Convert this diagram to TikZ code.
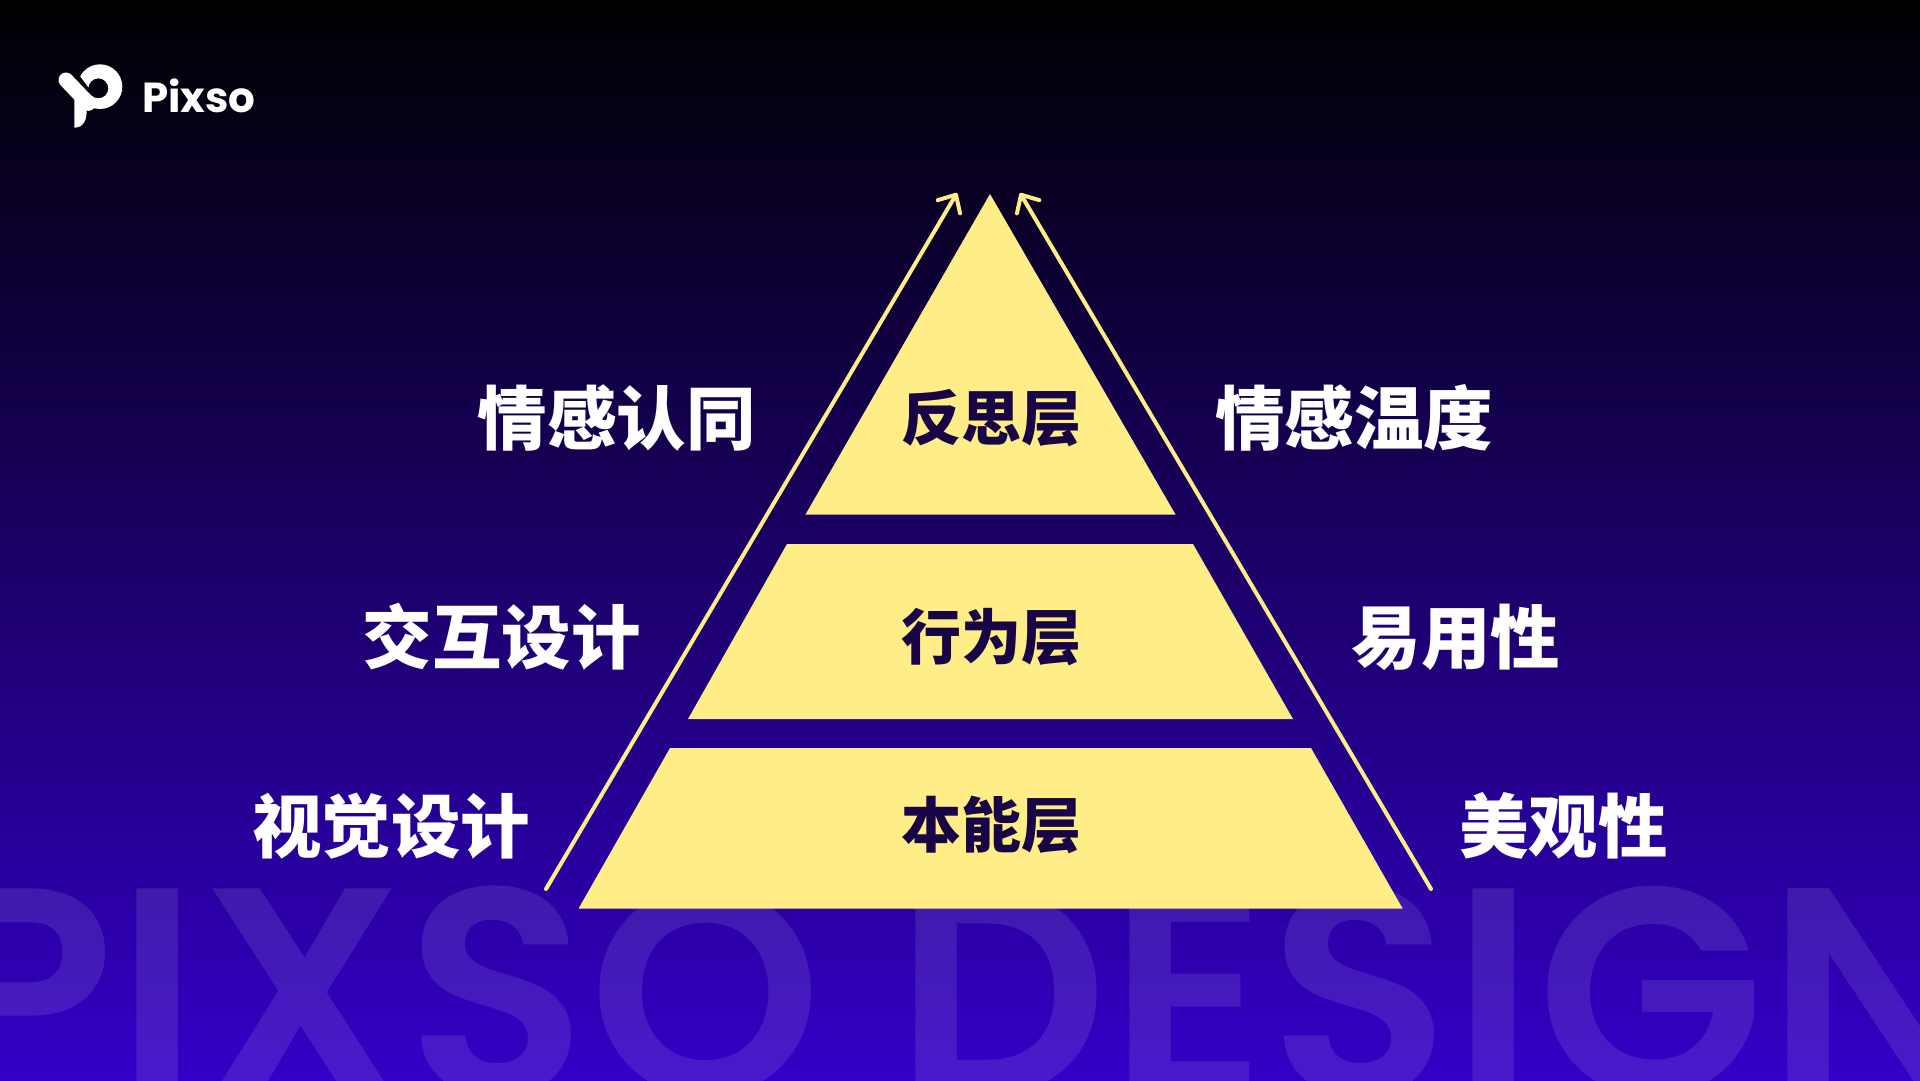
\documentclass[tikz,border=0pt]{standalone}
\usepackage{fontspec}
\usetikzlibrary{arrows.meta}
\newfontfamily\cjkf[BoldFont={Noto Sans CJK SC Black}]{Noto Sans CJK SC}
\newfontfamily\popf[LetterSpace=0.85]{Poppins SemiBold}
\newfontfamily\logof{Poppins Bold}
\definecolor{pyr}{HTML}{FFEE88}
\definecolor{bgtop}{HTML}{000000}
\definecolor{bgbot}{HTML}{3300C6}
\definecolor{inktxt}{HTML}{170545}
\tikzset{
  layer/.style={fill=pyr,draw=none},
  sidelabel/.style={text=white,inner sep=0pt,font=\cjkf\bfseries\fontsize{69.5}{70}\selectfont},
  layerlabel/.style={text=inktxt,inner sep=0pt,font=\cjkf\bfseries\fontsize{60}{60}\selectfont},
  rise/.style={draw=pyr,line width=4pt,line cap=round,-{Straight Barb[length=14pt,width=26pt,round]}},
}
\begin{document}
\begin{tikzpicture}[x=1pt,y=-1pt]
\useasboundingbox (0,0) rectangle (1920,1080);
\shade[top color=bgtop,bottom color=bgbot,draw=none] (0,0) rectangle (1920,1080);
\node[anchor=base west,inner sep=0pt,text=white,text opacity=0.1,font=\popf\fontsize{296}{296}\selectfont] (wm) at (-66,1095) {PIXSO DESIGN};
% logo
\begin{scope}[shift={(50,55)},x=0.3333pt,y=-0.3333pt]
  \begin{scope}
    \clip (80,50) -- (125,110) -- (120,160) -- (110,240) -- (260,240) -- (260,0) -- (80,0) -- cycle;
    \fill[white,even odd rule] (150,95) circle[radius=67pt*0.3333] (145,100) circle[radius=30pt*0.3333];
  \end{scope}
  \draw[white,line width=15pt,line cap=round] (48,75) -- (115,145);
  \fill[white] (73,125) -- (73,218) .. controls (100,218) and (112,195) .. (110,160) -- cycle;
\end{scope}
\node[anchor=base west,inner sep=0pt,text=white,font=\logof\fontsize{42}{42}\selectfont] (brand) at (142,112) {Pixso};
% pyramid
\fill[layer] (990,194) -- (1175.5,514.5) -- (805.5,514.5) -- cycle;
\fill[layer] (787,544) -- (1193,544) -- (1293,719) -- (688,719) -- cycle;
\fill[layer] (670,748) -- (1311,748) -- (1402.6,908.5) -- (578.6,908.5) -- cycle;
\coordinate (la) at (546,889); \coordinate (lb) at (957,193);
\coordinate (ra) at (1431,889); \coordinate (rb) at (1020,193);
\draw[rise] (la) -- (lb);
\draw[rise] (ra) -- (rb);
\node[layerlabel] (t1) at (991,418) {反思层};
\node[layerlabel] (t2) at (991,637) {行为层};
\node[layerlabel] (t3) at (991,825) {本能层};
\node[sidelabel] (l1) at (616.5,418) {情感认同};
\node[sidelabel] (r1) at (1354,418) {情感温度};
\node[sidelabel] (l2) at (501.5,637) {交互设计};
\node[sidelabel] (r2) at (1456,637) {易用性};
\node[sidelabel] (l3) at (391,826) {视觉设计};
\node[sidelabel] (r3) at (1563.5,826) {美观性};
\end{tikzpicture}
\end{document}
